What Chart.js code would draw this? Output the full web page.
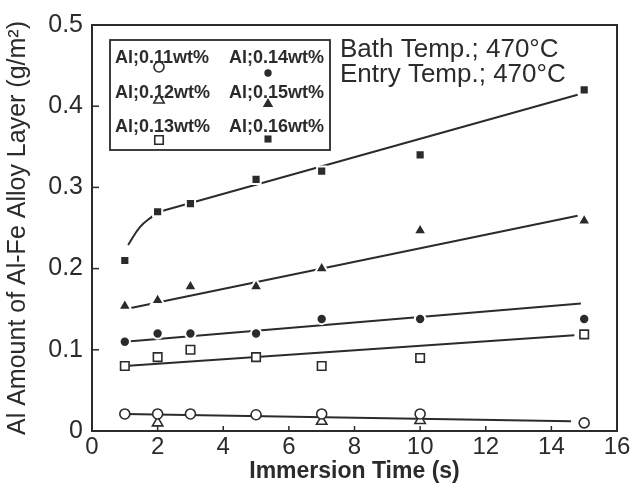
<!DOCTYPE html>
<html>
<head>
<meta charset="utf-8">
<script src="https://cdn.jsdelivr.net/npm/chart.js@4"></script>
<style>
  html, body { margin: 0; padding: 0; background: #fff; }
</style>
</head>
<body>
<canvas id="alloyChart" width="634" height="490"></canvas>
<script>
// measured values (immersion time in s, Al amount in g/m2)
const times = [1, 2, 3, 5, 7, 10, 15];
const al011 = [0.021, 0.021, 0.021, 0.02, 0.021, 0.021, 0.01];
const al012Times = [2, 7, 10];
const al012 = [0.01, 0.012, 0.013];
const al013 = [0.08, 0.091, 0.10, 0.091, 0.08, 0.09, 0.119];
const al014 = [0.11, 0.12, 0.12, 0.12, 0.138, 0.138, 0.138];
const al015 = [0.154, 0.161, 0.178, 0.178, 0.20, 0.247, 0.259];
const al016 = [0.21, 0.27, 0.28, 0.31, 0.32, 0.34, 0.42];

// drawn trend lines
const fitLowX = [1, 14.6];
const fitLowY = [0.021, 0.012];
const fit013X = [1, 14.7];
const fit013Y = [0.08, 0.118];
const fit014X = [1, 14.9];
const fit014Y = [0.11, 0.157];
const fit015X = [1, 14.8];
const fit015Y = [0.15, 0.265];
const fit016CurveX = [1.1, 1.46, 1.83, 2.05];
const fit016CurveY = [0.229, 0.251, 0.264, 0.27];
const fit016LineX = [2.05, 14.8];
const fit016LineY = [0.27, 0.414];

const xTicks = [0, 2, 4, 6, 8, 10, 12, 14, 16];
const yTicks = [0, 0.1, 0.2, 0.3, 0.4, 0.5];

const ink = '#2b2b2b';
const fontName = "'Liberation Sans', Arial, sans-serif";

function pts(xs, ys) {
    return xs.map((x, i) => ({ x: x, y: ys[i] }));
}

function markers(label, xs, ys, style, filled, radius) {
    return {
        label: label,
        data: pts(xs, ys),
        showLine: false,
        order: 0,
        pointStyle: style,
        pointRadius: radius,
        pointHoverRadius: radius,
        pointBackgroundColor: filled ? ink : '#fff',
        pointBorderColor: filled ? '#fff' : ink,
        pointBorderWidth: filled ? 2 : 1.6
    };
}

function trend(xs, ys, tension) {
    return {
        label: '',
        data: pts(xs, ys),
        showLine: true,
        order: 1,
        borderColor: ink,
        borderWidth: 2,
        pointRadius: 0,
        tension: tension || 0,
        fill: false
    };
}

const markerSets = [
    markers('Al;0.11wt%', times, al011, 'circle', false, 5),
    markers('Al;0.12wt%', al012Times, al012, 'triangle', false, 6),
    markers('Al;0.13wt%', times, al013, 'rect', false, 6),
    markers('Al;0.14wt%', times, al014, 'circle', true, 5.2),
    markers('Al;0.15wt%', times, al015, 'triangle', true, 7.5),
    markers('Al;0.16wt%', times, al016, 'rect', true, 6.5)
];

// frame, inward ticks, legend box and temperature note
const decor = {
    id: 'decor',
    beforeDatasetsDraw(chart) {
        const { ctx, chartArea: a, scales } = chart;
        ctx.save();
        ctx.strokeStyle = ink;
        ctx.lineWidth = 2;
        ctx.strokeRect(a.left, a.top, a.right - a.left, a.bottom - a.top);
        ctx.lineWidth = 1.5;
        yTicks.slice(1, -1).forEach(v => {
            const y = scales.y.getPixelForValue(v);
            ctx.beginPath();
            ctx.moveTo(a.left, y);
            ctx.lineTo(a.left + 7, y);
            ctx.stroke();
        });
        xTicks.slice(1, -1).forEach(v => {
            const x = scales.x.getPixelForValue(v);
            ctx.beginPath();
            ctx.moveTo(x, a.bottom);
            ctx.lineTo(x, a.bottom - 5);
            ctx.stroke();
        });
        ctx.restore();
    },
    afterDraw(chart) {
        const ctx = chart.ctx;
        ctx.save();
        // legend
        ctx.strokeStyle = ink;
        ctx.lineWidth = 1.8;
        ctx.strokeRect(110, 40, 220, 110);
        const colX = [115, 229];
        const rowY = [58, 93, 127];
        const markX = [159, 268];
        const markY = [[67, 73], [100, 104], [140, 139]];
        ctx.font = 'bold 18px ' + fontName;
        ctx.textBaseline = 'middle';
        markerSets.forEach((ds, i) => {
            const col = Math.floor(i / 3), row = i % 3;
            ctx.fillStyle = ink;
            ctx.fillText(ds.label, colX[col], rowY[row]);
            const filled = ds.pointBackgroundColor === ink;
            ctx.fillStyle = filled ? ink : '#fff';
            ctx.strokeStyle = ink;
            ctx.lineWidth = 1.6;
            Chart.helpers.drawPoint(ctx, {
                pointStyle: ds.pointStyle,
                radius: filled ? ds.pointRadius - 1.5 : ds.pointRadius,
                borderWidth: filled ? 0 : 1.6,
                rotation: 0
            }, markX[col], markY[row][col]);
        });
        // bath / entry temperatures
        ctx.fillStyle = ink;
        ctx.font = '26px ' + fontName;
        ctx.textBaseline = 'alphabetic';
        ctx.fillText('Bath Temp.; 470\u00B0C', 340, 57);
        ctx.fillText('Entry Temp.; 470\u00B0C', 340, 82);
        ctx.restore();
    }
};

const ctx = document.getElementById('alloyChart').getContext('2d');

const alloyChart = new Chart(ctx, {
    type: 'scatter',
    data: {
        datasets: markerSets.concat([
            trend(fitLowX, fitLowY),
            trend(fit013X, fit013Y),
            trend(fit014X, fit014Y),
            trend(fit015X, fit015Y),
            trend(fit016CurveX, fit016CurveY, 0.4),
            trend(fit016LineX, fit016LineY)
        ])
    },
    options: {
        responsive: false,
        animation: false,
        layout: { padding: { top: 25, right: 17, left: 0, bottom: 0 } },
        plugins: {
            legend: { display: false },
            tooltip: { enabled: false }
        },
        scales: {
            x: {
                type: 'linear',
                min: 0,
                max: 16,
                afterBuildTicks: s => { s.ticks = xTicks.map(v => ({ value: v })); },
                afterFit: s => { s.height = 59; },
                grid: { display: false, drawTicks: false },
                border: { display: false },
                ticks: {
                    color: ink,
                    padding: 2,
                    maxRotation: 0,
                    font: { family: fontName, size: 24 }
                },
                title: {
                    display: true,
                    text: 'Immersion Time (s)',
                    color: ink,
                    padding: { top: 0, bottom: 5 },
                    font: { family: fontName, size: 23, weight: 'bold' }
                }
            },
            y: {
                type: 'linear',
                min: 0,
                max: 0.5,
                afterBuildTicks: s => { s.ticks = yTicks.map(v => ({ value: v })); },
                afterFit: s => { s.width = 92; },
                grid: { display: false, drawTicks: false },
                border: { display: false },
                ticks: {
                    color: ink,
                    padding: 9,
                    font: { family: fontName, size: 25 },
                    callback: v => (v === 0 ? '0' : v.toFixed(1))
                },
                title: {
                    display: true,
                    text: 'Al Amount of Al-Fe Alloy Layer (g/m\u00B2)',
                    color: ink,
                    padding: { top: 3, bottom: 0 },
                    font: { family: fontName, size: 25 }
                }
            }
        }
    },
    plugins: [decor]
});
</script>
</body>
</html>
